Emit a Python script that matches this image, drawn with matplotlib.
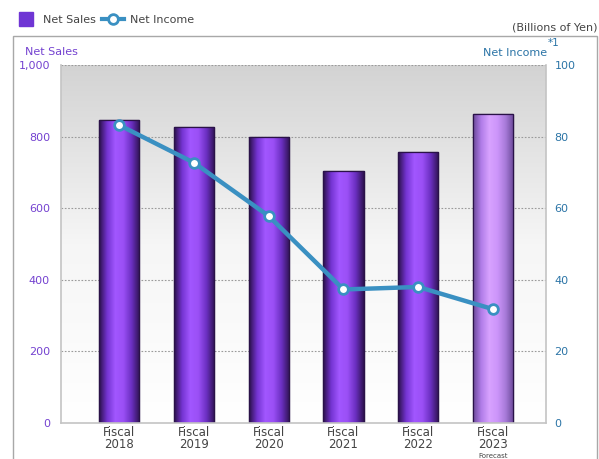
import numpy as np
import matplotlib.pyplot as plt
from matplotlib.colors import LinearSegmentedColormap
from matplotlib.patches import Rectangle
from matplotlib.lines import Line2D

# values (billions of yen)
years = ['Fiscal\n2018', 'Fiscal\n2019', 'Fiscal\n2020', 'Fiscal\n2021', 'Fiscal\n2022', 'Fiscal\n2023']
net_sales = [845, 828, 799, 705, 756, 864]
net_income = [83.2, 72.7, 57.8, 37.3, 38.0, 31.8]
sales_ticks = [0, 200, 400, 600, 800, 1000]
sales_tick_labels = ['0', '200', '400', '600', '800', '1,000']
income_ticks = [0, 20, 40, 60, 80, 100]

PURPLE_TXT = '#7442d0'
BLUE_TXT = '#2b74a6'
LINE_BLUE = '#3a90c2'

plt.rcParams['font.family'] = ['DejaVu Sans']

fig = plt.figure(figsize=(5.99, 4.59), dpi=100)
ax = fig.add_axes([61 / 599, 1 - 423 / 459, 485 / 599, 358 / 459])
x = np.arange(len(years))

# background gradient (grey at top -> white at bottom)
bg = LinearSegmentedColormap.from_list('bg', ['#ffffff', '#f6f6f6', '#d3d3d3'])
grad = np.linspace(0, 1, 256).reshape(-1, 1)
ax.imshow(grad, cmap=bg, origin='lower', aspect='auto',
          extent=(-0.78, 5.71, 0, 1000), zorder=0)

bars = ax.bar(x, net_sales, width=0.54, color='#6f35d4', edgecolor='#2a1248',
              linewidth=0.9, zorder=2)

# cylinder-like horizontal shading for each bar
cyl = LinearSegmentedColormap.from_list('cyl', ['#2a1048', '#7434d2', '#a257ff', '#9a4ff5', '#6a2fc0', '#2e1250'])
cyl_fc = LinearSegmentedColormap.from_list('cylfc', ['#6a4898', '#b07ce8', '#d8a2ff', '#cc95fa', '#a77ad8', '#6a4898'])
hgrad = np.linspace(0, 1, 256).reshape(1, -1)
for i, b in enumerate(bars):
    cmap = cyl_fc if i == len(bars) - 1 else cyl
    im = ax.imshow(hgrad, cmap=cmap, aspect='auto', zorder=2.1,
                   extent=(b.get_x(), b.get_x() + b.get_width(), 0, b.get_height()))
    im.set_clip_path(b)
    edge = Rectangle((b.get_x(), 0), b.get_width(), b.get_height(), fill=False,
                     edgecolor='#2a1248', linewidth=0.9, zorder=2.2)
    ax.add_patch(edge)

ax.set_xlim(-0.78, 5.71)
ax.set_ylim(0, 1000)
ax.set_yticks(sales_ticks)
ax.set_yticklabels(sales_tick_labels)
ax.set_xticks(x)
ax.set_xticklabels(years, fontsize=8.5, color='#444444', linespacing=0.95)
ax.tick_params(axis='x', length=0, pad=2)
ax.tick_params(axis='y', length=0, pad=8, labelsize=8, labelcolor=PURPLE_TXT)
for gy in sales_ticks[1:]:
    ax.axhline(gy, color='#9a9a9a', linestyle=(0, (1.5, 1.5)), linewidth=0.8, zorder=1)
for side in ['left', 'bottom', 'right']:
    ax.spines[side].set_color('#c4c4c4')
    ax.spines[side].set_linewidth(1.2)
ax.spines['top'].set_visible(False)

ax2 = ax.twinx()
ax2.plot(x, net_income, color=LINE_BLUE, linewidth=3.2, marker='o', markersize=7,
         markerfacecolor='white', markeredgecolor=LINE_BLUE, markeredgewidth=2, zorder=3)
ax2.set_ylim(0, 100)
ax2.set_yticks(income_ticks)
ax2.tick_params(axis='y', length=0, pad=6, labelsize=8, labelcolor=BLUE_TXT)
for s in ax2.spines.values():
    s.set_visible(False)

# axis titles
fig.text(25 / 599, 1 - 52 / 459, 'Net Sales', color=PURPLE_TXT, fontsize=8, va='center')
fig.text(547 / 599, 1 - 53 / 459, 'Net Income', color=BLUE_TXT, fontsize=8, va='center', ha='right')
fig.text(548 / 599, 1 - 43 / 459, '*1', color=BLUE_TXT, fontsize=7.5, va='center')
fig.text(597 / 599, 1 - 28 / 459, '(Billions of Yen)', color='#444444', fontsize=8, va='center', ha='right')

ax.annotate('Forecast', xy=(5, 0), xycoords=('data', 'axes fraction'), xytext=(0, -25.8),
            textcoords='offset points', ha='center', va='bottom', fontsize=5, color='#444444')

# outer frame
fig.add_artist(Rectangle((13 / 599, -0.1), 584 / 599, 1.1 - 36 / 459, fill=False,
                         edgecolor='#a8a8a8', linewidth=1.0, transform=fig.transFigure))

handles = [Line2D([0], [0], linestyle='none', marker='s', markersize=10.5,
                  markerfacecolor='#6f35d4', markeredgecolor='#6f35d4'),
           Line2D([0], [0], color=LINE_BLUE, linewidth=3, marker='o', markersize=7,
                  markerfacecolor='white', markeredgecolor=LINE_BLUE, markeredgewidth=2)]
fig.legend(handles, ['Net Sales', 'Net Income'], loc='upper left', bbox_to_anchor=(0.008, 0.99),
           ncol=2, frameon=False, fontsize=8, handlelength=2.0, handletextpad=0.5,
           columnspacing=0.6, labelcolor='#444444')

fig.savefig('out.png', dpi=100)
